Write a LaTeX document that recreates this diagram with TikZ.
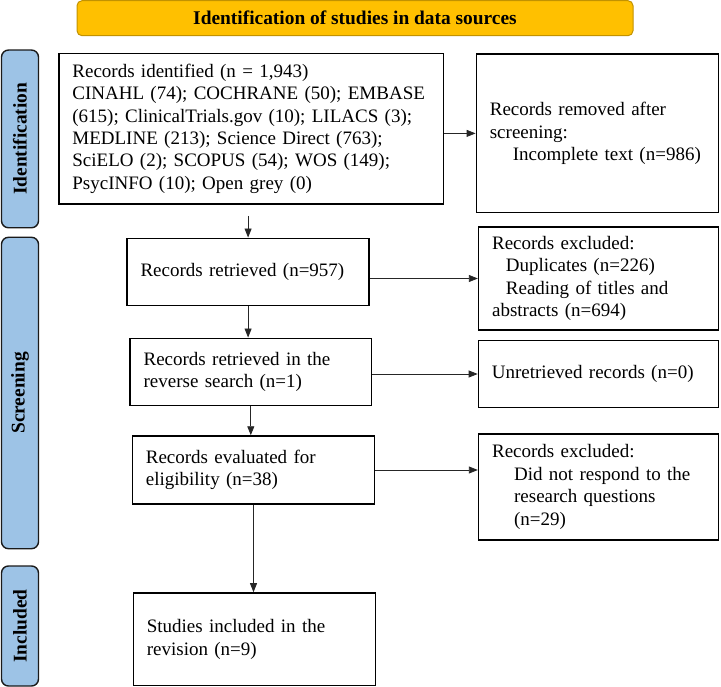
\documentclass[tikz,border=0pt]{standalone}
\usepackage{fontspec}
\setmainfont{Liberation Serif}
\usetikzlibrary{arrows.meta}
\hyphenpenalty=10000
\exhyphenpenalty=10000
\definecolor{titlefill}{HTML}{FFC000}
\definecolor{titledraw}{HTML}{C29200}
\definecolor{sidefill}{HTML}{9DC3E6}
\definecolor{sidedraw}{HTML}{1A1A1A}
\tikzset{
  txt/.style={font=\fontsize{19}{22.4}\selectfont},
  boxnode/.style={txt, draw=black, line width=1.5pt, align=left, inner xsep=13.5pt, inner ysep=2pt, anchor=center},
  sidebar/.style={font=\fontsize{19.4}{22.4}\selectfont\bfseries, draw=sidedraw, fill=sidefill, line width=1.4pt, rounded corners=7pt, rotate=90, minimum height=37pt, inner sep=0pt},
  titlebox/.style={font=\fontsize{19.4}{22.4}\selectfont\bfseries, draw=titledraw, fill=titlefill, line width=1pt, rounded corners=5pt, minimum width=556pt, minimum height=35pt, inner sep=0pt},
  arr/.style={draw=black!85, line width=0.8pt, -{Triangle[length=9pt,width=7pt]}}
}
\begin{document}
\begin{tikzpicture}[x=1pt,y=-1pt]
\useasboundingbox (0,0) rectangle (721,687);
% title
\node[titlebox] (title) at (355,18.2) {Identification of studies in data sources};
% sidebars
\node[sidebar, minimum width=177.7pt] (sid) at (20,138.9) {Identification};
\node[sidebar, minimum width=311.4pt] (sscr) at (20,393) {Screening};
\node[sidebar, minimum width=120pt] (sinc) at (20,626) {Included};
% boxes
\node[boxnode, minimum width=384.8pt, minimum height=150.7pt, text width=357.8pt] (box1) at (251.3,128.7)
  {Records identified (n = 1,943)\\
   CINAHL (74); COCHRANE (50); EMBASE\\
   (615); ClinicalTrials.gov (10); LILACS (3);\\
   MEDLINE (213); Science Direct (763);\\
   SciELO (2); SCOPUS (54); WOS (149);\\
   PsycINFO (10); Open grey (0)};
\node[boxnode, minimum width=242.3pt, minimum height=158.7pt, text width=215.3pt] (removed) at (597.5,133.4)
  {Records removed after\\
   screening:\\
   \hspace*{23pt}Incomplete text (n=986)};
\node[boxnode, minimum width=242.2pt, minimum height=67.4pt, text width=215.2pt] (retrieved) at (248.1,272)
  {Records retrieved (n=957)};
\node[boxnode, minimum width=240pt, minimum height=103pt, text width=213pt] (excl1) at (598.6,278.5)
  {Records excluded:\\
   \hspace*{13.8pt}Duplicates (n=226)\\
   \hspace*{13.8pt}Reading of titles and\\
   abstracts (n=694)};
\node[boxnode, minimum width=241.4pt, minimum height=67.4pt, text width=214.4pt] (reverse) at (250.8,372)
  {Records retrieved in the\\
   reverse search (n=1)};
\node[boxnode, minimum width=240.2pt, minimum height=67.4pt, text width=213.2pt] (unret) at (598.5,374)
  {Unretrieved records (n=0)};
\node[boxnode, minimum width=242.3pt, minimum height=68pt, text width=215.3pt] (evaluated) at (253.5,470)
  {Records evaluated for\\
   eligibility (n=38)};
\node[boxnode, minimum width=240pt, minimum height=106pt, text width=213pt] (excl3) at (598.6,487)
  {Records excluded:\\
   \hspace*{22pt}Did not respond to the\\
   \hspace*{22pt}research questions\\
   \hspace*{22pt}(n=29)};
\node[boxnode, minimum width=242.3pt, minimum height=92.7pt, text width=215.3pt] (included) at (254.5,639.3)
  {Studies included in the\\
   revision (n=9)};
% connectors
\draw[arr] (box1.east |- removed.west) -- (removed.west);
\draw[arr, shorten <=11pt] (retrieved.north |- box1.south) -- (retrieved.north);
\draw[arr] (retrieved.east |- excl1.west) -- (excl1.west);
\draw[arr] (retrieved.south) -- (retrieved.south |- reverse.north);
\draw[arr] (reverse.east |- unret.west) -- (unret.west);
\draw[arr] (reverse.south) -- (reverse.south |- evaluated.north);
\draw[arr] (evaluated.east) -- (evaluated.east -| excl3.west);
\draw[arr] (evaluated.south) -- (evaluated.south |- included.north);
\end{tikzpicture}
\end{document}
